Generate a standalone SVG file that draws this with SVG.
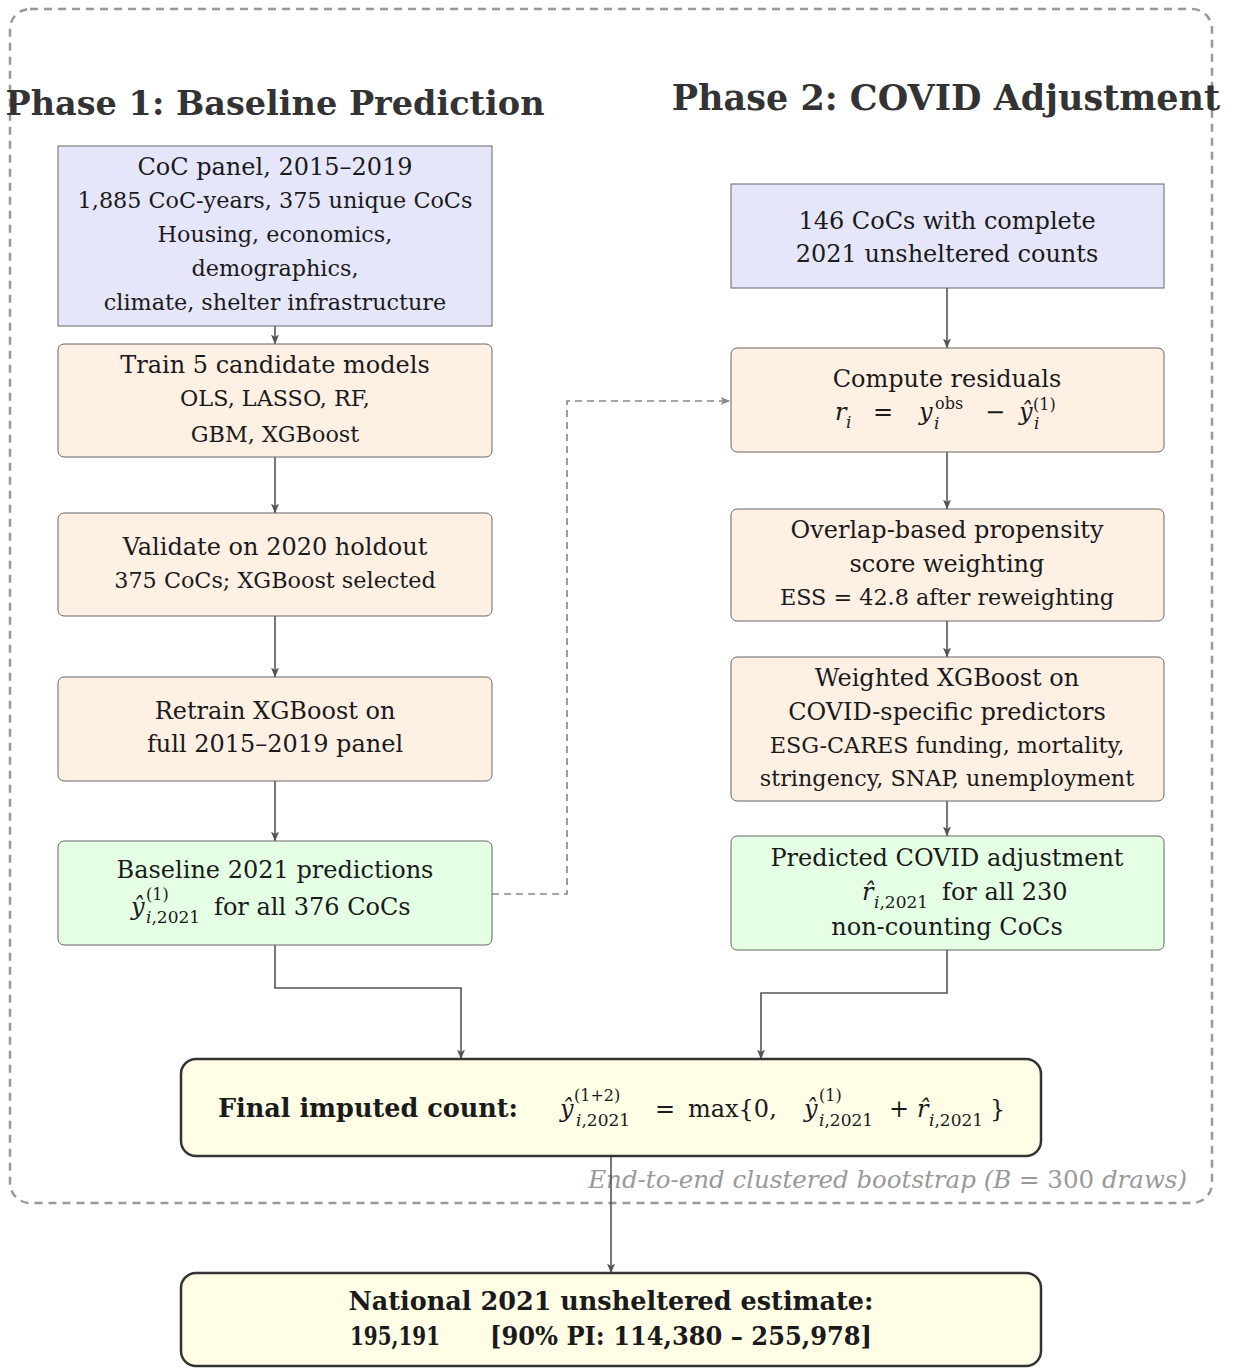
<svg xmlns="http://www.w3.org/2000/svg" width="1233" height="1368" viewBox="0 0 1233 1368">
<defs>
<marker id="ah" viewBox="0 0 10 8" refX="9.5" refY="4" markerWidth="10" markerHeight="8" markerUnits="userSpaceOnUse" orient="auto">
<path d="M0,0 L10,4 L0,8 L2.5,4 z" fill="#555"/>
</marker>
<marker id="ahd" viewBox="0 0 10 8" refX="9.5" refY="4" markerWidth="10" markerHeight="8" markerUnits="userSpaceOnUse" orient="auto">
<path d="M0,0 L10,4 L0,8 L2.5,4 z" fill="#888"/>
</marker>
</defs>
<style>
text{font-family:"DejaVu Serif","Liberation Serif",serif;fill:#1a1a1a}
.t{font-size:24px;text-anchor:middle}
.s{font-size:22.3px;text-anchor:middle}
.h{font-weight:bold;fill:#333}
.b{font-size:25.5px;font-weight:bold}
.m{font-style:italic}
.blue{fill:#E6E6FA;stroke:#666;stroke-width:1}
.org{fill:#FFF0E4;stroke:#666;stroke-width:1}
.grn{fill:#E4FFE4;stroke:#666;stroke-width:1}
.yel{fill:#FFFDE6;stroke:#333;stroke-width:2.5}
.c{fill:none;stroke:#555;stroke-width:1.6;marker-end:url(#ah)}
.d{fill:none;stroke:#888;stroke-width:1.6;stroke-dasharray:7,5;marker-end:url(#ahd)}
.frame{fill:none;stroke:#999;stroke-width:2.5;stroke-dasharray:8,6}
.sup{font-size:17px}
.sp{font-size:16px}
</style>
<rect width="1233" height="1368" fill="#fff"/>
<g id="frame">
<rect class="frame" x="10" y="9" width="1202" height="1194" rx="20"/>
<text x="1187" y="1188" style="font-size:24.5px;font-style:italic;fill:#999;text-anchor:end">End-to-end clustered bootstrap (<tspan>B</tspan><tspan style="font-style:normal"> = 300 </tspan>draws)</text>
</g>
<g id="titles">
<text class="h" x="275" y="115" text-anchor="middle" style="font-size:33.5px">Phase 1: Baseline Prediction</text>
<text class="h" x="946" y="110" text-anchor="middle" style="font-size:35px">Phase 2: COVID Adjustment</text>
</g>
<g id="connectors">
<path class="c" d="M275,326 V344"/>
<path class="c" d="M275,457 V513"/>
<path class="c" d="M275,616 V677"/>
<path class="c" d="M275,781 V841"/>
<path class="c" d="M947,288 V348"/>
<path class="c" d="M947,452 V509"/>
<path class="c" d="M947,621 V657"/>
<path class="c" d="M947,801 V836"/>
<path class="d" d="M492,894 H567 V401 H730"/>
<path class="c" d="M275,945 V988 H461 V1059"/>
<path class="c" d="M947,950 V993 H761 V1059"/>
<path class="c" d="M611,1156 V1273"/>
</g>
<g id="n1">
<rect class="blue" x="58" y="146" width="434" height="180"/>
<text class="t" x="275" y="175">CoC panel, 2015–2019</text>
<text class="s" x="275" y="208">1,885 CoC-years, 375 unique CoCs</text>
<text class="s" x="275" y="242">Housing, economics,</text>
<text class="s" x="275" y="276">demographics,</text>
<text class="s" x="275" y="310">climate, shelter infrastructure</text>
</g>
<g id="n2">
<rect class="org" x="58" y="344" width="434" height="113" rx="6"/>
<text class="t" x="275" y="373">Train 5 candidate models</text>
<text class="s" x="275" y="406">OLS, LASSO, RF,</text>
<text class="s" x="275" y="442">GBM, XGBoost</text>
</g>
<g id="n3">
<rect class="org" x="58" y="513" width="434" height="103" rx="6"/>
<text class="t" x="275" y="555">Validate on 2020 holdout</text>
<text class="s" x="275" y="588">375 CoCs; XGBoost selected</text>
</g>
<g id="n4">
<rect class="org" x="58" y="677" width="434" height="104" rx="6"/>
<text class="t" x="275" y="719">Retrain XGBoost on</text>
<text class="t" x="275" y="752">full 2015–2019 panel</text>
</g>
<g id="n5">
<rect class="grn" x="58" y="841" width="434" height="104" rx="6"/>
<text class="t" x="275" y="878">Baseline 2021 predictions</text>
<text class="m" x="131" y="915" style="font-size:24px">ŷ</text>
<text class="sp" x="146" y="900">(1)</text>
<text class="sup m" x="146" y="923">i<tspan style="font-style:normal">,2021</tspan></text>
<text x="214" y="915" style="font-size:24px">for all 376 CoCs</text>
</g>
<g id="r1">
<rect class="blue" x="731" y="184" width="433" height="104"/>
<text class="t" x="947" y="229">146 CoCs with complete</text>
<text class="t" x="947" y="262">2021 unsheltered counts</text>
</g>
<g id="r2">
<rect class="org" x="731" y="348" width="433" height="104" rx="6"/>
<text class="t" x="947" y="387">Compute residuals</text>
<text class="m" x="835" y="420" style="font-size:24px">r</text>
<text class="sup m" x="846" y="428">i</text>
<text x="873" y="420" style="font-size:24px">=</text>
<text class="m" x="919" y="420" style="font-size:24px">y</text>
<text class="sp" x="935" y="409">obs</text>
<text class="sup m" x="934" y="429">i</text>
<text x="985" y="420" style="font-size:24px">−</text>
<text class="m" x="1019" y="420" style="font-size:24px">ŷ</text>
<text class="sp" x="1033" y="410">(1)</text>
<text class="sup m" x="1034" y="429">i</text>
</g>
<g id="r3">
<rect class="org" x="731" y="509" width="433" height="112" rx="6"/>
<text class="t" x="947" y="538">Overlap-based propensity</text>
<text class="t" x="947" y="572">score weighting</text>
<text class="s" x="947" y="605">ESS = 42.8 after reweighting</text>
</g>
<g id="r4">
<rect class="org" x="731" y="657" width="433" height="144" rx="6"/>
<text class="t" x="947" y="686">Weighted XGBoost on</text>
<text class="t" x="947" y="720">COVID-specific predictors</text>
<text class="s" x="947" y="753">ESG-CARES funding, mortality,</text>
<text class="s" x="947" y="786">stringency, SNAP, unemployment</text>
</g>
<g id="r5">
<rect class="grn" x="731" y="836" width="433" height="114" rx="6"/>
<text class="t" x="947" y="866">Predicted COVID adjustment</text>
<text class="m" x="862" y="900" style="font-size:24px">r̂</text>
<text class="sup m" x="874" y="908">i<tspan style="font-style:normal">,2021</tspan></text>
<text x="942" y="900" style="font-size:24px">for all 230</text>
<text class="t" x="947" y="935">non-counting CoCs</text>
</g>
<g id="final">
<rect class="yel" x="181" y="1059" width="860" height="97" rx="15"/>
<text class="b" x="218" y="1117">Final imputed count:</text>
<text class="m" x="560" y="1117" style="font-size:24px">ŷ</text>
<text class="sp" x="574" y="1101">(1+2)</text>
<text class="sup m" x="576" y="1126">i<tspan style="font-style:normal">,2021</tspan></text>
<text x="655" y="1117" style="font-size:24px">=</text>
<text x="688" y="1117" style="font-size:24px">max{0,</text>
<text class="m" x="804" y="1117" style="font-size:24px">ŷ</text>
<text class="sp" x="819" y="1101">(1)</text>
<text class="sup m" x="819" y="1126">i<tspan style="font-style:normal">,2021</tspan></text>
<text x="889" y="1117" style="font-size:24px">+</text>
<text class="m" x="917" y="1117" style="font-size:24px">r̂</text>
<text class="sup m" x="929" y="1126">i<tspan style="font-style:normal">,2021</tspan></text>
<text x="990" y="1117" style="font-size:24px">}</text>
</g>
<g id="national">
<rect class="yel" x="181" y="1273" width="860" height="93" rx="15"/>
<text class="b" x="611" y="1310" text-anchor="middle">National 2021 unsheltered estimate:</text>
<text class="b" x="350" y="1345" textLength="90" lengthAdjust="spacingAndGlyphs">195,191</text>
<text class="b" x="490" y="1345" textLength="382" lengthAdjust="spacingAndGlyphs">[90% PI: 114,380 – 255,978]</text>
</g>
</svg>
